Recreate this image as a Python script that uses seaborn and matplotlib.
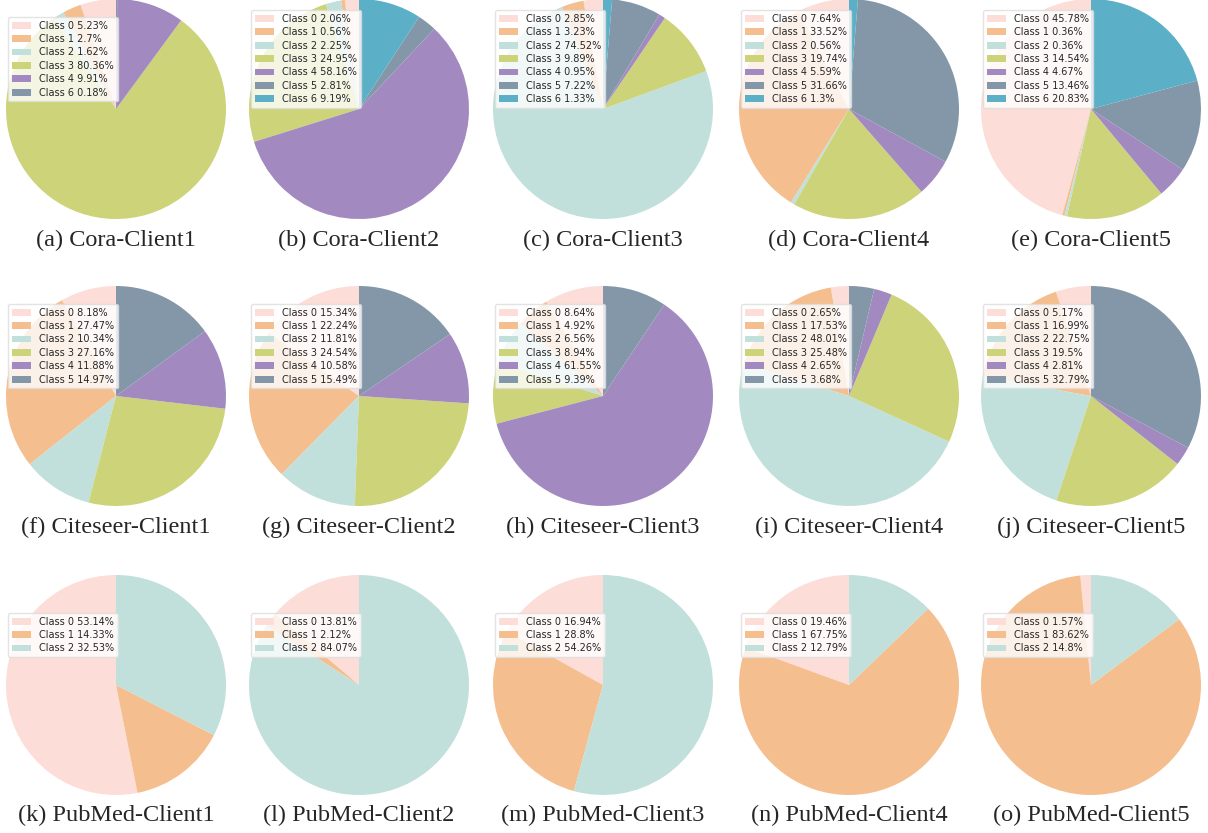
import matplotlib
matplotlib.use("Agg")
import matplotlib.pyplot as plt
import seaborn as sns

# Class distributions (percent) per client
cora_classes = [
    [0, 1, 2, 3, 4, 6],
    [0, 1, 2, 3, 4, 5, 6],
    [0, 1, 2, 3, 4, 5, 6],
    [0, 1, 2, 3, 4, 5, 6],
    [0, 1, 2, 3, 4, 5, 6],
]
cora_values = [
    [5.23, 2.7, 1.62, 80.36, 9.91, 0.18],
    [2.06, 0.56, 2.25, 24.95, 58.16, 2.81, 9.19],
    [2.85, 3.23, 74.52, 9.89, 0.95, 7.22, 1.33],
    [7.64, 33.52, 0.56, 19.74, 5.59, 31.66, 1.3],
    [45.78, 0.36, 0.36, 14.54, 4.67, 13.46, 20.83],
]
citeseer_classes = [[0, 1, 2, 3, 4, 5]] * 5
citeseer_values = [
    [8.18, 27.47, 10.34, 27.16, 11.88, 14.97],
    [15.34, 22.24, 11.81, 24.54, 10.58, 15.49],
    [8.64, 4.92, 6.56, 8.94, 61.55, 9.39],
    [2.65, 17.53, 48.01, 25.48, 2.65, 3.68],
    [5.17, 16.99, 22.75, 19.5, 2.81, 32.79],
]
pubmed_classes = [[0, 1, 2]] * 5
pubmed_values = [
    [53.14, 14.33, 32.53],
    [13.81, 2.12, 84.07],
    [16.94, 28.8, 54.26],
    [19.46, 67.75, 12.79],
    [1.57, 83.62, 14.8],
]
datasets = ["Cora", "Citeseer", "PubMed"]
panel_letters = list("abcdefghijklmno")

sns.set_theme(style="white")
palette = sns.color_palette(
    ["#FCDDD7", "#F4BE8F", "#C1E0DB", "#CDD378", "#A28AC1", "#8497A9", "#5BAFC6"]
)

W, H = 1208, 833
fig = plt.figure(figsize=(W / 100, H / 100), dpi=100)

# pie centres in pixels (x per column, y per row) and radius
col_cx = [116, 359, 603, 849, 1091]
row_cy = [109, 396, 685]
caption_y = [240, 527, 815]
R = 110

all_classes = [cora_classes, citeseer_classes, pubmed_classes]
all_values = [cora_values, citeseer_values, pubmed_values]

for r in range(3):
    for c in range(5):
        classes = all_classes[r][c]
        values = all_values[r][c]
        cx, cy = col_cx[c], row_cy[r]
        ax = fig.add_axes([(cx - R) / W, 1 - (cy + R) / H, 2 * R / W, 2 * R / H])
        wedges, _ = ax.pie(values, colors=palette[:len(values)], startangle=90,
                           counterclock=True, radius=1.0,
                           wedgeprops=dict(linewidth=0))
        ax.set_xlim(-1, 1)
        ax.set_ylim(-1, 1)
        ax.set_aspect("equal")
        ax.axis("off")
        labels = [f"Class {k} {v:g}%" for k, v in zip(classes, values)]
        ax.legend(wedges, labels, loc="center left", bbox_to_anchor=(0.0, 0.727),
                  fontsize=7, labelspacing=0.35, borderaxespad=0.2, frameon=True,
                  framealpha=0.8, edgecolor="#dddddd", fancybox=True)
        idx = r * 5 + c
        fig.text(cx / W, 1 - caption_y[r] / H,
                 f"({panel_letters[idx]}) {datasets[r]}-Client{c + 1}",
                 ha="center", va="center", fontsize=17.5,
                 family=["Liberation Serif", "DejaVu Serif"])

fig.savefig("out.png", dpi=100)
